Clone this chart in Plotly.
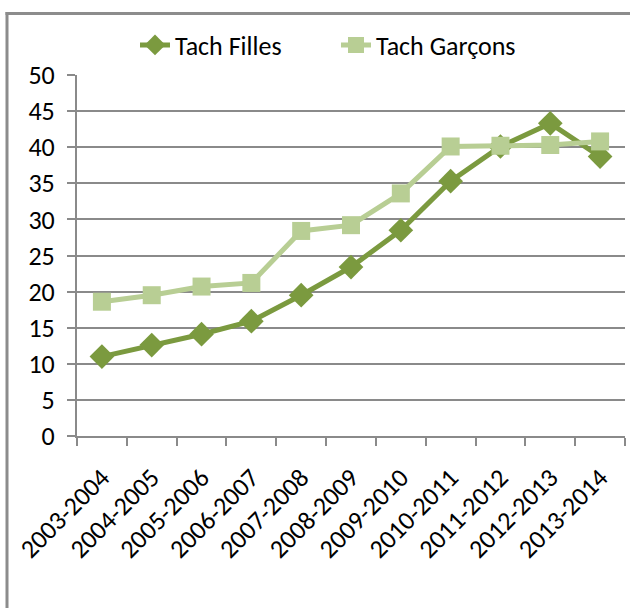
import plotly.graph_objects as go

categories = ["2003-2004", "2004-2005", "2005-2006", "2006-2007", "2007-2008",
              "2008-2009", "2009-2010", "2010-2011", "2011-2012", "2012-2013", "2013-2014"]
filles = [11.0, 12.6, 14.1, 15.9, 19.5, 23.4, 28.5, 35.3, 40.1, 43.3, 38.7]
garcons = [18.6, 19.5, 20.7, 21.2, 28.4, 29.2, 33.6, 40.1, 40.2, 40.3, 40.8]
y_ticks = [0, 5, 10, 15, 20, 25, 30, 35, 40, 45, 50]

FONT = "Carlito, Liberation Sans Narrow, Roboto"
dark = "#7B9A3F"
light = "#B8CE94"
grid = "#8A8A8A"
frame = "#8C8C8C"

fig = go.Figure()
fig.add_trace(go.Scatter(x=categories, y=filles, name="Tach Filles", mode="lines+markers",
                         line=dict(color=dark, width=5),
                         marker=dict(symbol="diamond", size=19, color=dark)))
fig.add_trace(go.Scatter(x=categories, y=garcons, name="Tach Garçons", mode="lines+markers",
                         line=dict(color=light, width=5),
                         marker=dict(symbol="square", size=18, color=light)))

L, R, T, B = 77, 5, 75, 172
W, H = 630, 608
pw = W - L - R
ph = H - T - B


def px_x(v):
    return (v - L) / pw


def px_y(v):
    return (T + ph - v) / ph


fig.update_layout(
    width=W, height=H,
    margin=dict(l=L, r=R, t=T, b=B, pad=0, autoexpand=False),
    paper_bgcolor="white", plot_bgcolor="white",
    font=dict(family=FONT, size=26, color="black"),
    showlegend=True,
    legend=dict(orientation="h", x=px_x(135), xanchor="left", y=px_y(45),
                yanchor="middle", entrywidth=156, entrywidthmode="pixels",
                font=dict(family=FONT, size=26, color="black"),
                traceorder="normal", bgcolor="rgba(0,0,0,0)"),
    xaxis=dict(type="category", tickangle=-45, showgrid=False, showline=True, automargin=False,
               linecolor=grid, linewidth=2, ticks="outside", tickson="boundaries",
               ticklen=8, tickwidth=2, tickcolor=grid, ticklabelstandoff=14,
               tickfont=dict(family=FONT, size=26, color="black"),
               range=[-0.5, len(categories) - 0.5]),
    yaxis=dict(range=[0, 50], tickvals=y_ticks, showgrid=True, gridcolor=grid, gridwidth=2,
               showline=True, linecolor=grid, linewidth=2, ticks="outside", ticklen=8,
               automargin=False, ticklabelstandoff=7,
               tickwidth=2, tickcolor=grid, zeroline=False,
               tickfont=dict(family=FONT, size=26, color="black")),
    shapes=[
        dict(type="rect", xref="paper", yref="paper", x0=px_x(5.5), x1=px_x(640),
             y0=px_y(15), y1=px_y(12), fillcolor=frame, line=dict(width=0), layer="above"),
        dict(type="rect", xref="paper", yref="paper", x0=px_x(5.5), x1=px_x(8.5),
             y0=px_y(640), y1=px_y(12), fillcolor=frame, line=dict(width=0), layer="above"),
    ],
)

fig.write_html("out.html", config={"displayModeBar": False},
               post_script="document.body.style.margin='0px';")
